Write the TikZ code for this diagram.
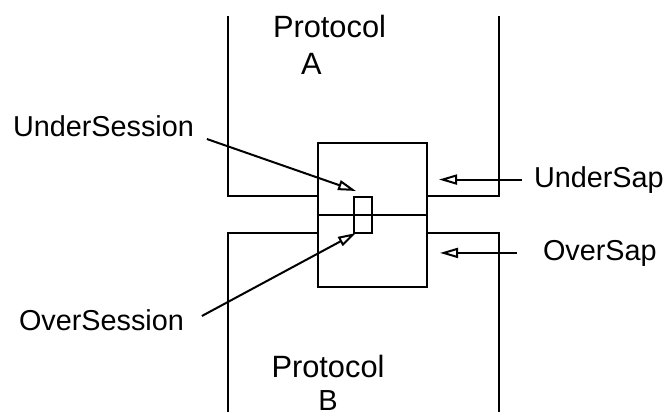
\documentclass[tikz,border=0pt]{standalone}
\usepackage{fontspec}
\setmainfont{Liberation Sans}
\usepackage{tikz}
\usetikzlibrary{arrows.meta,calc}

\begin{document}
\begin{tikzpicture}[
      x=0.5pt,y=-0.5pt,line width=1pt,
      lbl/.style={font=\fontsize{14.4}{17}\selectfont,inner sep=0pt},
      proto/.style={font=\fontsize{15.4}{18.5}\selectfont,inner sep=0pt},
      box/.style={draw,inner sep=0pt},
      ar/.style={-{Triangle[open,length=9pt,width=5pt]},line width=1pt}]
      \useasboundingbox (0,0) rectangle (670,414);
      \node[box,minimum width=54.5pt,minimum height=72pt] (sap) at (372.5,215) {};
      \node[box,minimum width=9pt,minimum height=18pt] (session) at (363,215) {};
      \draw (sap.west) -- (sap.east);
      \draw (228,16) |- (sap.west |- 0,196);
      \draw (499,16) |- (sap.east |- 0,196);
      \draw (228,412) |- (sap.west |- 0,233);
      \draw (499,412) |- (sap.east |- 0,233);
      \node[proto,anchor=north west,align=left] (protoA) at (272,14) {Protocol\\\hspace*{14pt}A};
      \node[proto,anchor=north,align=center] (protoB) at (328,354) {Protocol\\[-2pt]\fontsize{14.5}{16}\selectfont B};
      \node[lbl,anchor=base west] (undersess) at (12,136) {UnderSession};
      \node[lbl,anchor=base west] (oversess) at (18,330) {OverSession};
      \node[lbl,anchor=base west] (undersap) at (533,187) {UnderSap};
      \node[lbl,anchor=base west] (oversap) at (542,260) {OverSap};
      \draw[ar] ($(undersess.base east)+(12,3)$) -- ($(session.north west)+(3,-5)$);
      \draw[ar] ($(oversess.base east)+(17,-14)$) -- ($(session.south west)+(3,-1)$);
      \draw[ar] ($(undersap.west)+(-11,0)$) -- ($(sap.east |- undersap.west)+(11,0)$);
      \draw[ar] ($(oversap.west)+(-25,0)$) -- ($(sap.east |- oversap.west)+(12,0)$);
    \end{tikzpicture}
\end{document}
